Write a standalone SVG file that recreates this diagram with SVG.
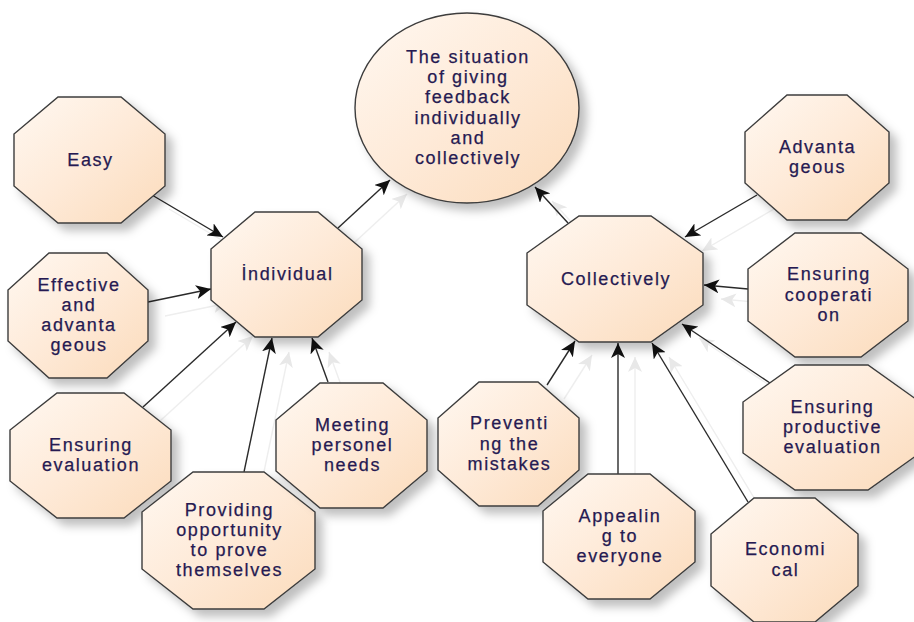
<svg xmlns="http://www.w3.org/2000/svg" xmlns:xlink="http://www.w3.org/1999/xlink" width="914" height="622" viewBox="0 0 914 622">
<defs>
<linearGradient id="fillG" x1="0" y1="0" x2="1" y2="1">
<stop offset="0" stop-color="#fff8f1"/>
<stop offset="0.5" stop-color="#feead8"/>
<stop offset="1" stop-color="#fbdbbb"/>
</linearGradient>
<filter id="sh" x="-20%" y="-20%" width="150%" height="150%">
<feDropShadow dx="7" dy="7" stdDeviation="5" flood-color="#000" flood-opacity="0.25"/>
</filter>
<marker id="arr" markerUnits="userSpaceOnUse" markerWidth="16" markerHeight="14" refX="15" refY="7" orient="auto">
<path d="M0,0 L15,7 L0,14 L4,7 z" fill="#111"/>
</marker>
<marker id="arrL" markerUnits="userSpaceOnUse" markerWidth="16" markerHeight="14" refX="15" refY="7" orient="auto">
<path d="M0,0 L15,7 L0,14 L4,7 z" fill="#e8e8e8"/>
</marker>
<style>
.node{fill:url(#fillG);stroke:#3c3c3c;stroke-width:1.4;filter:url(#sh)}
.lbl{font-family:"Liberation Sans",Arial,sans-serif;font-size:18px;letter-spacing:1.6px;fill:#261a52;stroke:#261a52;stroke-width:0.25;text-anchor:middle}
.edge{fill:none;stroke:#2a2a2a;stroke-width:1.4;marker-end:url(#arr)}
.edge-shadow{fill:none;stroke:#eeeeee;stroke-width:1.4;marker-end:url(#arrL)}
</style>
</defs>
<rect width="914" height="622" fill="#ffffff"/>

<g id="connectors">
<use xlink:href="#edgeLines" href="#edgeLines" class="edge-shadow" transform="translate(17,14)"/>
<g class="edge">
<g id="edgeLines">
<line x1="152" y1="195" x2="223" y2="237"/>
<line x1="148" y1="302" x2="211" y2="289"/>
<line x1="143" y1="407" x2="236" y2="322"/>
<line x1="244" y1="472" x2="272" y2="338"/>
<line x1="328" y1="382" x2="312" y2="338"/>
<line x1="338" y1="228" x2="390" y2="180"/>
<line x1="568" y1="223" x2="535" y2="187"/>
<line x1="757" y1="195" x2="685" y2="237"/>
<line x1="748" y1="289" x2="704" y2="285"/>
<line x1="770" y1="383" x2="682" y2="324"/>
<line x1="547" y1="385" x2="575" y2="341"/>
<line x1="618" y1="474" x2="618" y2="343"/>
<line x1="748" y1="502" x2="652" y2="343"/>
</g>
</g>
</g>

<g id="main">
<ellipse class="node" cx="467" cy="108" rx="112" ry="95"/>
<text class="lbl" x="468" y="63">The situation</text>
<text class="lbl" x="468" y="83.2">of giving</text>
<text class="lbl" x="468" y="103.4">feedback</text>
<text class="lbl" x="468" y="123.6">individually</text>
<text class="lbl" x="468" y="143.8">and</text>
<text class="lbl" x="468" y="164">collectively</text>
</g>

<g id="easy">
<polygon class="node" points="58,97 121,97 165,134 165,186 121,223 58,223 14,186 14,134"/>
<text class="lbl" x="90.5" y="165.5">Easy</text>
</g>

<g id="individual">
<polygon class="node" points="255,212 318,212 362,249 362,300 318,337 255,337 211,300 211,249"/>
<text class="lbl" x="287.5" y="280">İndividual</text>
</g>

<g id="effective">
<polygon class="node" points="49,253 107,253 148,290 148,341 107,378 49,378 8,341 8,290"/>
<text class="lbl" x="79" y="290.7">Effective</text>
<text class="lbl" x="79" y="310.9">and</text>
<text class="lbl" x="79" y="331.1">advanta</text>
<text class="lbl" x="79" y="351.3">geous</text>
</g>

<g id="ensuring-evaluation">
<polygon class="node" points="57,393 124,393 171,430 171,481 124,518 57,518 10,481 10,430"/>
<text class="lbl" x="91" y="450.9">Ensuring</text>
<text class="lbl" x="91" y="471.1">evaluation</text>
</g>

<g id="providing">
<polygon class="node" points="193,472 264,472 315,512 315,569 264,609 193,609 142,569 142,512"/>
<text class="lbl" x="229.5" y="515.7">Providing</text>
<text class="lbl" x="229.5" y="535.9">opportunity</text>
<text class="lbl" x="229.5" y="556.1">to prove</text>
<text class="lbl" x="229.5" y="576.3">themselves</text>
</g>

<g id="meeting">
<polygon class="node" points="320,383 383,383 427,420 427,471 383,508 320,508 276,471 276,420"/>
<text class="lbl" x="352.5" y="430.8">Meeting</text>
<text class="lbl" x="352.5" y="451">personel</text>
<text class="lbl" x="352.5" y="471.2">needs</text>
</g>

<g id="collectively">
<polygon class="node" points="579,216 651,216 703,253 703,305 651,342 579,342 527,305 527,253"/>
<text class="lbl" x="616" y="284.5">Collectively</text>
</g>

<g id="advantageous">
<polygon class="node" points="787,95 847,95 889,132 889,183 847,220 787,220 745,183 745,132"/>
<text class="lbl" x="817.5" y="152.9">Advanta</text>
<text class="lbl" x="817.5" y="173.1">geous</text>
</g>

<g id="cooperation">
<polygon class="node" points="795,233 861,233 908,269 908,321 861,357 795,357 748,321 748,269"/>
<text class="lbl" x="829" y="280.3">Ensuring</text>
<text class="lbl" x="829" y="300.5">cooperati</text>
<text class="lbl" x="829" y="320.7">on</text>
</g>

<g id="productive">
<polygon class="node" points="795,365 868,365 920,402 920,453 868,490 795,490 743,453 743,402"/>
<text class="lbl" x="832.5" y="412.8">Ensuring</text>
<text class="lbl" x="832.5" y="433">productive</text>
<text class="lbl" x="832.5" y="453.2">evaluation</text>
</g>

<g id="preventing">
<polygon class="node" points="479,382 538,382 579,418 579,470 538,506 479,506 438,470 438,418"/>
<text class="lbl" x="509.5" y="429.3">Preventi</text>
<text class="lbl" x="509.5" y="449.5">ng the</text>
<text class="lbl" x="509.5" y="469.7">mistakes</text>
</g>

<g id="appealing">
<polygon class="node" points="588,474 650,474 695,511 695,562 650,599 588,599 543,562 543,511"/>
<text class="lbl" x="620" y="521.8">Appealin</text>
<text class="lbl" x="620" y="542">g to</text>
<text class="lbl" x="620" y="562.2">everyone</text>
</g>

<g id="economical">
<polygon class="node" points="754,498 815,498 858,534 858,586 815,622 754,622 711,586 711,534"/>
<text class="lbl" x="785.5" y="555.4">Economi</text>
<text class="lbl" x="785.5" y="575.6">cal</text>
</g>
</svg>
